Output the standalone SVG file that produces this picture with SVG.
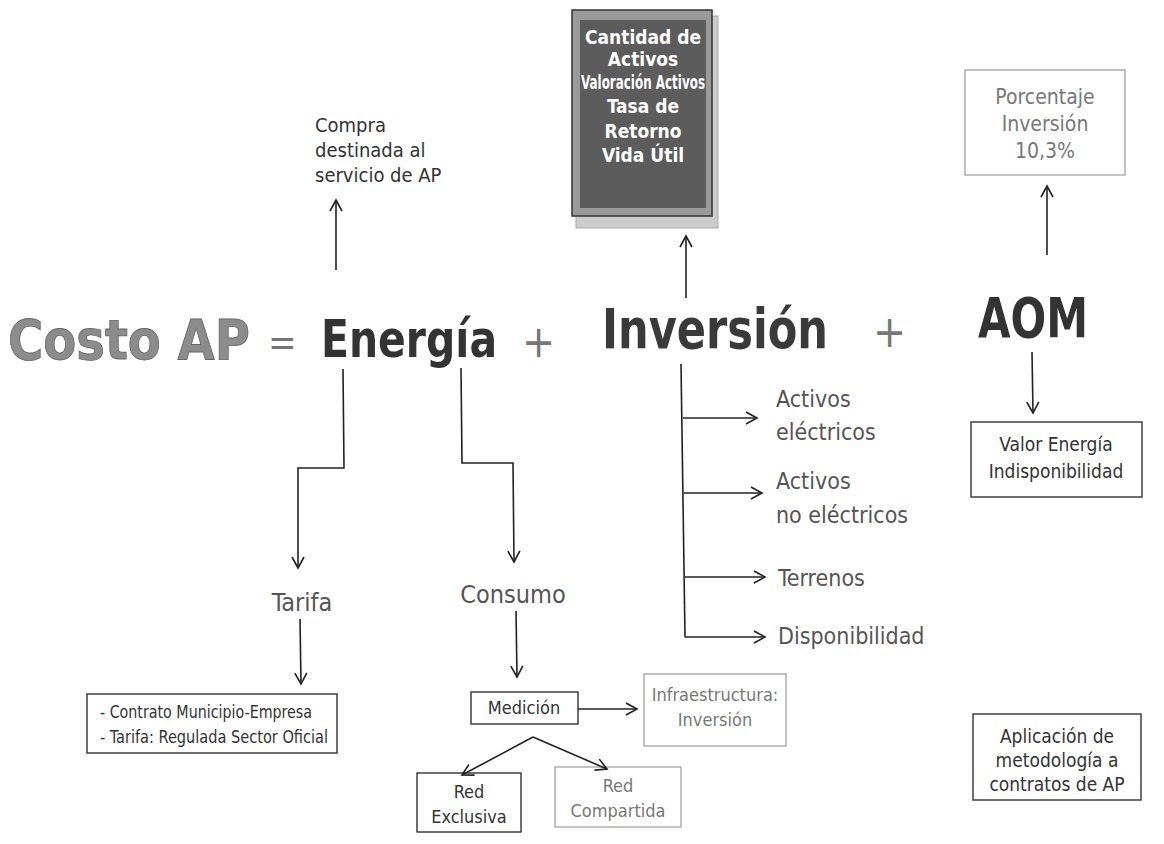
<svg xmlns="http://www.w3.org/2000/svg" width="1164" height="844" viewBox="0 0 1164 844">
<defs>
<marker id="ah" markerWidth="14" markerHeight="14" refX="12" refY="7" orient="auto" markerUnits="userSpaceOnUse">
<path d="M1,1 L12,7 L1,13" fill="none" stroke="#222" stroke-width="1.6"/>
</marker>
<style>
.t{font-family:"DejaVu Sans Condensed","DejaVu Sans",sans-serif;}
.big{font-size:56px;font-weight:bold;}
.lbl{font-size:20px;fill:#333;}
.lbl2{font-size:25px;fill:#555;}
.box{fill:#fff;stroke:#333;stroke-width:1.4;}
.boxg{fill:#fff;stroke:#999;stroke-width:1.2;}
.ln{fill:none;stroke:#222;stroke-width:1.6;}
</style>
</defs>
<rect width="1164" height="844" fill="#fff"/>

<g id="costo"><text class="t big" x="8" y="359" fill="#8c8c8c" stroke="#666" stroke-width="0.8" textLength="242" lengthAdjust="spacingAndGlyphs">Costo AP</text></g>
<g id="eq"><text class="t" x="268" y="355" font-size="38" fill="#777">=</text></g>
<g id="energia"><text class="t big" x="321" y="357" fill="#333" style="font-size:51px" textLength="176" lengthAdjust="spacingAndGlyphs">Energía</text></g>
<g id="plus1"><text class="t" x="522" y="357" font-size="44" fill="#777">+</text></g>
<g id="inversion"><text class="t big" x="602" y="348" fill="#3a3a3a" textLength="226" lengthAdjust="spacingAndGlyphs">Inversión</text></g>
<g id="plus2"><text class="t" x="873" y="347" font-size="44" fill="#777">+</text></g>
<g id="aom"><text class="t big" x="978" y="337" fill="#333" textLength="110" lengthAdjust="spacingAndGlyphs">AOM</text></g>

<g id="compra">
<text class="t lbl" x="315" y="132">Compra</text>
<text class="t lbl" x="315" y="157">destinada al</text>
<text class="t lbl" x="315" y="182">servicio de AP</text>
</g>

<g id="activosBox">
<rect x="576" y="16" width="142" height="212" fill="#ccc" stroke="#aaa"/>
<rect x="572" y="10" width="140" height="206" fill="#9a9a9a" stroke="#333" stroke-width="1.5"/>
<rect x="580" y="20" width="126" height="188" fill="#5c5c5c"/>
<g class="t" font-weight="bold" font-size="19" fill="#fff" text-anchor="middle">
<text x="643" y="44">Cantidad de</text>
<text x="643" y="66">Activos</text>
<text x="643" y="89" textLength="124" lengthAdjust="spacingAndGlyphs">Valoración Activos</text>
<text x="643" y="113">Tasa de</text>
<text x="643" y="138">Retorno</text>
<text x="643" y="162">Vida Útil</text>
</g>
</g>

<g id="porcentaje">
<rect class="boxg" x="965" y="70" width="160" height="105"/>
<g class="t" font-size="21" fill="#777" text-anchor="middle">
<text x="1045" y="104">Porcentaje</text>
<text x="1045" y="131">Inversión</text>
<text x="1045" y="158">10,3%</text>
</g>
</g>

<g id="tarifa"><text class="t lbl2" x="302" y="611" text-anchor="middle">Tarifa</text></g>
<g id="consumo"><text class="t lbl2" x="513" y="603" text-anchor="middle">Consumo</text></g>

<g id="contrato">
<rect class="box" x="87" y="694" width="250" height="59"/>
<text class="t" font-size="18" fill="#333" x="100" y="718" textLength="212" lengthAdjust="spacingAndGlyphs">- Contrato Municipio-Empresa</text>
<text class="t" font-size="18" fill="#333" x="100" y="743" textLength="228" lengthAdjust="spacingAndGlyphs">- Tarifa: Regulada Sector Oficial</text>
</g>

<g id="medicion">
<rect class="box" x="471" y="692" width="107" height="32"/>
<text class="t" font-size="18" fill="#333" x="524" y="714" text-anchor="middle">Medición</text>
</g>

<g id="infra">
<rect class="boxg" x="644" y="674" width="142" height="72"/>
<text class="t" font-size="18" fill="#777" x="715" y="701" text-anchor="middle">Infraestructura:</text>
<text class="t" font-size="18" fill="#777" x="715" y="726" text-anchor="middle">Inversión</text>
</g>

<g id="redExclusiva">
<rect class="box" x="417" y="773" width="104" height="59"/>
<text class="t" font-size="18" fill="#333" x="469" y="798" text-anchor="middle">Red</text>
<text class="t" font-size="18" fill="#333" x="469" y="823" text-anchor="middle">Exclusiva</text>
</g>

<g id="redCompartida">
<rect class="boxg" x="555" y="767" width="126" height="60"/>
<text class="t" font-size="18" fill="#777" x="618" y="792" text-anchor="middle">Red</text>
<text class="t" font-size="18" fill="#777" x="618" y="817" text-anchor="middle">Compartida</text>
</g>

<g id="invItems" class="t" font-size="23" fill="#555">
<text x="776" y="407">Activos</text>
<text x="776" y="440">eléctricos</text>
<text x="776" y="489">Activos</text>
<text x="776" y="523">no eléctricos</text>
<text x="778" y="586">Terrenos</text>
<text x="778" y="644">Disponibilidad</text>
</g>

<g id="valor">
<rect class="box" x="971" y="422" width="171" height="75"/>
<text class="t" font-size="19" fill="#333" x="1056" y="451" text-anchor="middle">Valor Energía</text>
<text class="t" font-size="19" fill="#333" x="1056" y="478" text-anchor="middle">Indisponibilidad</text>
</g>

<g id="aplicacion">
<rect class="box" x="973" y="714" width="168" height="86"/>
<text class="t" font-size="19" fill="#333" x="1057" y="743" text-anchor="middle">Aplicación de</text>
<text class="t" font-size="19" fill="#333" x="1057" y="767" text-anchor="middle">metodología a</text>
<text class="t" font-size="19" fill="#333" x="1057" y="791" text-anchor="middle">contratos de AP</text>
</g>

<g id="connectors">
<path class="ln" d="M336,270 L336,200" marker-end="url(#ah)"/>
<path class="ln" d="M686,298 L686,236" marker-end="url(#ah)"/>
<path class="ln" d="M1047,255 L1047,186" marker-end="url(#ah)"/>
<path class="ln" d="M343,369 L344,468 L298,468 L298,568" marker-end="url(#ah)"/>
<path class="ln" d="M461,368 L462,463 L513,463 L514,562" marker-end="url(#ah)"/>
<path class="ln" d="M300,619 L301,684" marker-end="url(#ah)"/>
<path class="ln" d="M516,611 L517,677" marker-end="url(#ah)"/>
<path class="ln" d="M578,709 L637,709" marker-end="url(#ah)"/>
<path class="ln" d="M533,737 L462,775" marker-end="url(#ah)"/>
<path class="ln" d="M533,737 L607,769" marker-end="url(#ah)"/>
<path class="ln" d="M681,364 L685,637"/>
<path class="ln" d="M683,418 L757,418" marker-end="url(#ah)"/>
<path class="ln" d="M684,493 L762,493" marker-end="url(#ah)"/>
<path class="ln" d="M685,577 L765,577" marker-end="url(#ah)"/>
<path class="ln" d="M685,637 L765,637" marker-end="url(#ah)"/>
<path class="ln" d="M1032,352 L1033,413" marker-end="url(#ah)"/>
</g>
</svg>
